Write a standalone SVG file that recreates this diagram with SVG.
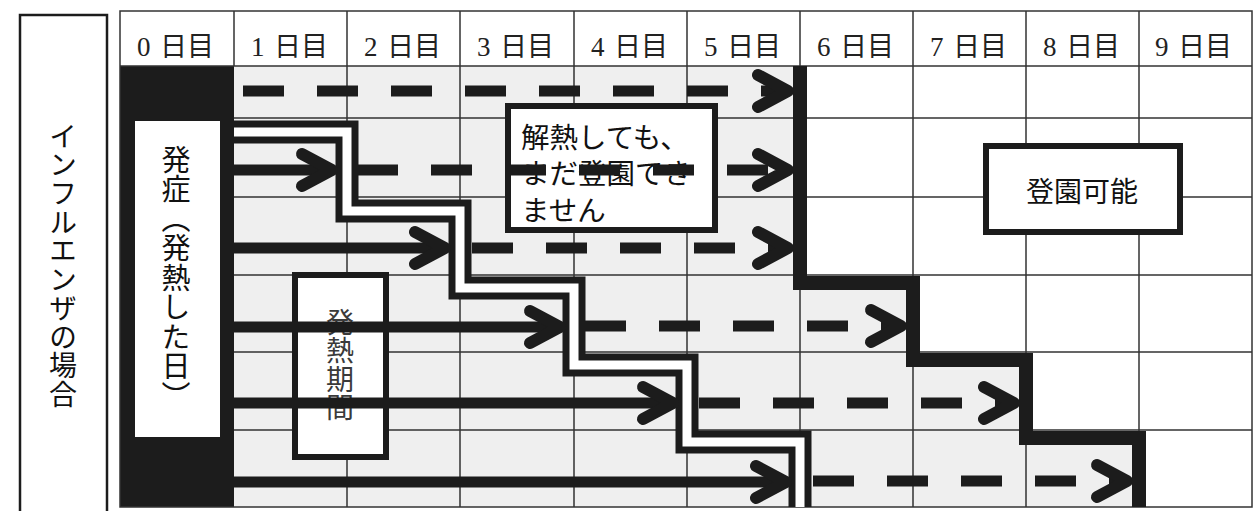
<svg xmlns="http://www.w3.org/2000/svg" width="1254" height="511" viewBox="0 0 1254 511">
<style>
.grid{stroke:#333;stroke-width:1.5;fill:none}
.hd{font-family:"Liberation Serif","Noto Sans CJK JP",serif;font-size:27px;fill:#222}
.jp{font-family:"Noto Sans CJK JP","Noto Sans",sans-serif;fill:#111}
.vt{writing-mode:vertical-rl;glyph-orientation-vertical:0}
.box{fill:#fff;stroke:#1c1c1c;stroke-width:6}
.shaft{stroke:#1c1c1c;stroke-width:11;fill:none}
.dash{stroke:#1c1c1c;stroke-width:11;fill:none;stroke-dasharray:41 33}
.head{stroke:#1c1c1c;stroke-width:12;fill:none;stroke-linecap:round;stroke-linejoin:round}
</style>
<rect width="1254" height="511" fill="#fff"/>
<g id="table">
<polygon points="234,66 800,66 800,283 913,283 913,360 1026,360 1026,438 1139,438 1139,507 234,507" fill="#efefef"/>
<rect x="120" y="66" width="114" height="441" fill="#1c1c1c"/>
<path class="grid" d="M347,11V507M460,11V507M574,11V507M687,11V507M800,11V507M913,11V507M1026,11V507M1139,11V507M234,11V66M120,66H1252M234,118H1252M234,197H1252M234,275H1252M234,352H1252M234,430H1252"/>
<rect class="grid" x="120" y="11" width="1132" height="496"/>
<g id="header">
<text class="hd" x="137 160 187" y="56">0日目</text>
<text class="hd" x="251 274 301" y="56">1日目</text>
<text class="hd" x="364 387 414" y="56">2日目</text>
<text class="hd" x="477 500 527" y="56">3日目</text>
<text class="hd" x="591 614 641" y="56">4日目</text>
<text class="hd" x="704 727 754" y="56">5日目</text>
<text class="hd" x="817 840 867" y="56">6日目</text>
<text class="hd" x="930 953 980" y="56">7日目</text>
<text class="hd" x="1043 1066 1093" y="56">8日目</text>
<text class="hd" x="1155 1178 1205" y="56">9日目</text>
</g>
</g>
<g id="fever-boundary">
<path d="M234,132H347V211H460V288H574V365H687V442H800V507" fill="none" stroke="#1c1c1c" stroke-width="23"/>
<path d="M234,132H347V211H460V288H574V365H687V442H800V507" fill="none" stroke="#fff" stroke-width="9"/>
</g>
<g id="attend-boundary">
<path d="M800,66V283H913V360H1026V438H1139V507" fill="none" stroke="#1c1c1c" stroke-width="14"/>
</g>
<g id="influenza-label">
<rect x="20" y="15" width="87" height="520" fill="#fff" stroke="#1c1c1c" stroke-width="2.5"/>
<text class="jp vt" x="63" y="122" font-size="28" letter-spacing="0.7">インフルエンザの場合</text>
</g>
<g id="onset">
<rect x="135" y="121" width="85" height="316" fill="#fff"/>
<text class="jp vt" x="176" y="145" font-size="29" letter-spacing="0.5">発症（発熱した日）</text>
</g>
<g id="fever-period">
<rect class="box" x="295" y="275" width="91" height="182"/>
<text class="jp vt" x="340" y="308" font-size="28" letter-spacing="0.5" style="fill:#3a3a3a">発熱期間</text>
</g>
<g id="not-yet">
<rect class="box" x="508" y="106" width="207" height="124"/>
<text class="jp" font-size="28.5"><tspan x="521" y="148">解熱しても、</tspan><tspan x="521" y="184">まだ登園でき</tspan><tspan x="521" y="221">ません</tspan></text>
</g>
<g id="can-attend">
<rect class="box" x="986" y="146" width="194" height="86"/>
<text class="jp" x="1082" y="202" font-size="28" text-anchor="middle">登園可能</text>
</g>
<g id="connectors">
<path class="dash" d="M243,91H788"/>
<path class="head" d="M758,75L788,91L758,107"/>
<path class="shaft" d="M234,170H332"/>
<path class="head" d="M302,154L332,170L302,186"/>
<path class="dash" d="M357,170H788"/>
<path class="head" d="M758,154L788,170L758,186"/>
<path class="shaft" d="M234,248H445"/>
<path class="head" d="M415,232L445,248L415,264"/>
<path class="dash" d="M472,248H788"/>
<path class="head" d="M758,232L788,248L758,264"/>
<path class="shaft" d="M234,327H560"/>
<path class="head" d="M530,311L560,327L530,343"/>
<path class="dash" d="M585,326H901"/>
<path class="head" d="M871,310L901,326L871,342"/>
<path class="shaft" d="M234,403H673"/>
<path class="head" d="M643,387L673,403L643,419"/>
<path class="dash" d="M699,403H1014"/>
<path class="head" d="M984,387L1014,403L984,419"/>
<path class="shaft" d="M234,482H786"/>
<path class="head" d="M756,466L786,482L756,498"/>
<path class="dash" d="M813,481H1127"/>
<path class="head" d="M1097,465L1127,481L1097,497"/>
</g>
</svg>
